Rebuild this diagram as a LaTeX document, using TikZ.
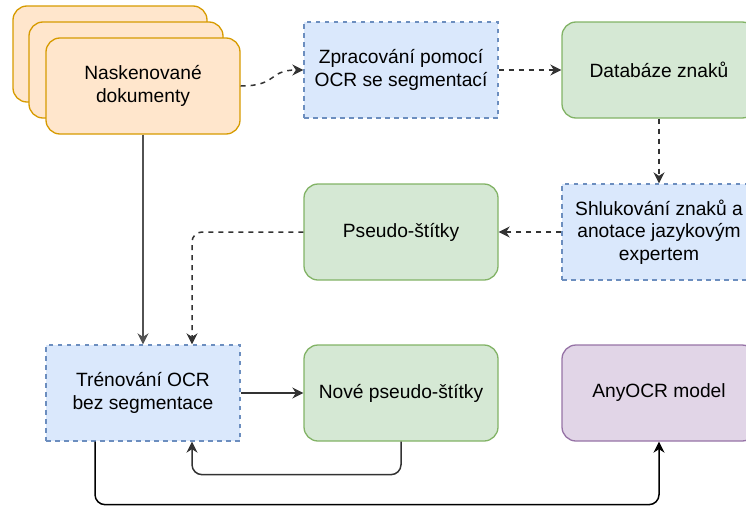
\documentclass[tikz,border=0pt]{standalone}
\usepackage{fontspec}
\setmainfont{Liberation Sans}
\usetikzlibrary{arrows.meta,calc}
\definecolor{orfill}{HTML}{FFE6CC}\definecolor{ordraw}{HTML}{D79B00}
\definecolor{blfill}{HTML}{DAE8FC}\definecolor{bldraw}{HTML}{6C8EBF}
\definecolor{grfill}{HTML}{D5E8D4}\definecolor{grdraw}{HTML}{82B366}
\definecolor{pufill}{HTML}{E1D5E7}\definecolor{pudraw}{HTML}{9673A6}
\definecolor{edgec}{HTML}{333333}
\begin{document}
\begin{tikzpicture}[x=1pt,y=-1pt,
  box/.style={minimum width=194pt,minimum height=96pt,inner sep=0pt,align=center,
    line width=1.3pt,font=\fontsize{19.2}{22.5}\selectfont,text=black},
  docbox/.style={box,rounded corners=14pt,draw=ordraw,fill=orfill},
  bluebox/.style={box,draw=bldraw,fill=blfill,dash pattern=on 4.5pt off 4.5pt},
  greenbox/.style={box,rounded corners=14pt,draw=grdraw,fill=grfill},
  purplebox/.style={box,rounded corners=14pt,draw=pudraw,fill=pufill},
  arr/.style={draw=edgec,line width=1.5pt,-{Stealth[length=11pt,width=11pt,inset=3.5pt]},rounded corners=10pt},
  darr/.style={arr,dash pattern=on 5pt off 5pt}]
\useasboundingbox (0,0) rectangle (746,506);
\node[docbox] (doc3) at (110,54) {};
\node[docbox] (doc2) at (126,70) {};
\node[docbox] (doc1) at (143,86) {Naskenované\\dokumenty};
\node[bluebox] (ocr) at (401,70) {Zpracování pomocí\\OCR se segmentací};
\node[greenbox] (db) at (659,70) {Databáze znaků};
\node[bluebox] (shluk) at (659,232) {Shlukování znaků a\\anotace jazykovým\\expertem};
\node[greenbox] (pseudo) at (401,232) {Pseudo-štítky};
\node[bluebox] (tren) at (143,393) {Trénování OCR\\bez segmentace};
\node[greenbox] (nove) at (401,393) {Nové pseudo-štítky};
\node[purplebox] (any) at (659,393) {AnyOCR model};
\draw[darr] (doc1.east) .. controls (278,86) and (268,70) .. (ocr.west);
\draw[darr] (ocr.east) -- (db.west);
\draw[darr] (db.south) -- (shluk.north);
\draw[darr] (shluk.west) -- (pseudo.east);
\draw[darr] (pseudo.west) -| ([xshift=49pt]tren.north);
\draw[arr,draw=edgec!85] (doc1.south) -- (tren.north);
\draw[arr] (tren.east) -- (nove.west);
\draw[arr] (nove.south) -- ++(0,33) -| ([xshift=49pt]tren.south);
\draw[arr,draw=black] ([xshift=-48pt]tren.south) -- ++(0,63) -| (any.south);
\end{tikzpicture}
\end{document}
